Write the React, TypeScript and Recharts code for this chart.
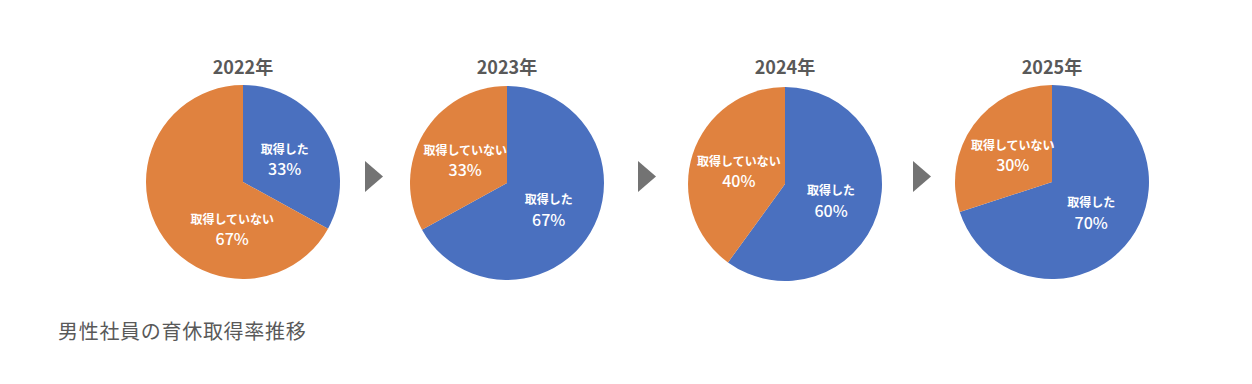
import { PieChart, Pie, Cell } from 'recharts'

const YEARS = ['2022年', '2023年', '2024年', '2025年']
const TAKEN = [33, 67, 60, 70]
const NOT_TAKEN = [67, 33, 40, 30]
const SLICE_NAMES = ['取得した', '取得していない']
const CAPTION = '男性社員の育休取得率推移'

const COLORS = ['#4a70bf', '#e0823f']
const FONT = '"Noto Sans CJK JP", "Noto Sans", sans-serif'

// page-space centres of each pie (body margin of 8 taken off below)
const CENTERS = [
  { x: 243, y: 182 },
  { x: 507, y: 183 },
  { x: 785, y: 184 },
  { x: 1052, y: 182 },
]
const ARROW_X = [365, 638, 913]
const SIZE = 220
const RADIUS = 97
const RADIAN = Math.PI / 180

// Excel moved a couple of labels away from the mid angle
const LABEL_TWEAKS: Record<string, { shift: number; r: number }> = {
  '2022年-取得していない': { shift: 46, r: 0.48 },
}

const makeLabel = (year: string) => (props: any) => {
  const { cx, cy, midAngle, outerRadius, name, value } = props
  const tweak = LABEL_TWEAKS[`${year}-${name}`] || { shift: 0, r: 0.5 }
  const a = (midAngle + tweak.shift) * RADIAN
  const r = outerRadius * tweak.r
  const x = cx + r * Math.cos(-a)
  const y = cy + r * Math.sin(-a)
  return (
    <g>
      <text x={x} y={y - 9} fill="#fff" textAnchor="middle" dominantBaseline="central"
        fontSize={12} fontWeight={700} fontFamily={FONT}>
        {name}
      </text>
      <text x={x} y={y + 11} fill="#fff" textAnchor="middle" dominantBaseline="central"
        fontSize={16} fontWeight={500} fontFamily={FONT}>
        {`${value}%`}
      </text>
    </g>
  )
}

export default function App() {
  return (
    <div style={{ position: 'relative', width: 1236, height: 368, background: '#fff', fontFamily: FONT }}>
      {YEARS.map((year, i) => {
        const data = [
          { name: SLICE_NAMES[0], value: TAKEN[i] },
          { name: SLICE_NAMES[1], value: NOT_TAKEN[i] },
        ]
        const c = CENTERS[i]
        return (
          <div key={year}>
            <div style={{
              position: 'absolute', left: c.x - 8 - 60, top: 66 - 8 - 12, width: 120,
              textAlign: 'center', fontSize: 18, lineHeight: '24px', fontWeight: 700, color: '#595959',
            }}>
              {year}
            </div>
            <div style={{ position: 'absolute', left: c.x - 8 - SIZE / 2, top: c.y - 8 - SIZE / 2 }}>
              <PieChart width={SIZE} height={SIZE} margin={{ top: 0, right: 0, bottom: 0, left: 0 }}>
                <Pie
                  data={data}
                  dataKey="value"
                  nameKey="name"
                  cx={SIZE / 2}
                  cy={SIZE / 2}
                  outerRadius={RADIUS}
                  startAngle={90}
                  endAngle={-270}
                  stroke="none"
                  labelLine={false}
                  label={makeLabel(year)}
                  isAnimationActive={false}
                >
                  {data.map((d, k) => (
                    <Cell key={d.name} fill={COLORS[k]} />
                  ))}
                </Pie>
              </PieChart>
            </div>
          </div>
        )
      })}
      {ARROW_X.map((x) => (
        <svg key={x} width={20} height={32}
          style={{ position: 'absolute', left: x - 8, top: 161 - 8 }}>
          <polygon points="0,0 18,15.5 0,31" fill="#737373" />
        </svg>
      ))}
      <div style={{
        position: 'absolute', left: 58 - 8, top: 331 - 8 - 14, fontSize: 20, lineHeight: '28px',
        color: '#595959', letterSpacing: 0.7,
      }}>
        {CAPTION}
      </div>
    </div>
  )
}
